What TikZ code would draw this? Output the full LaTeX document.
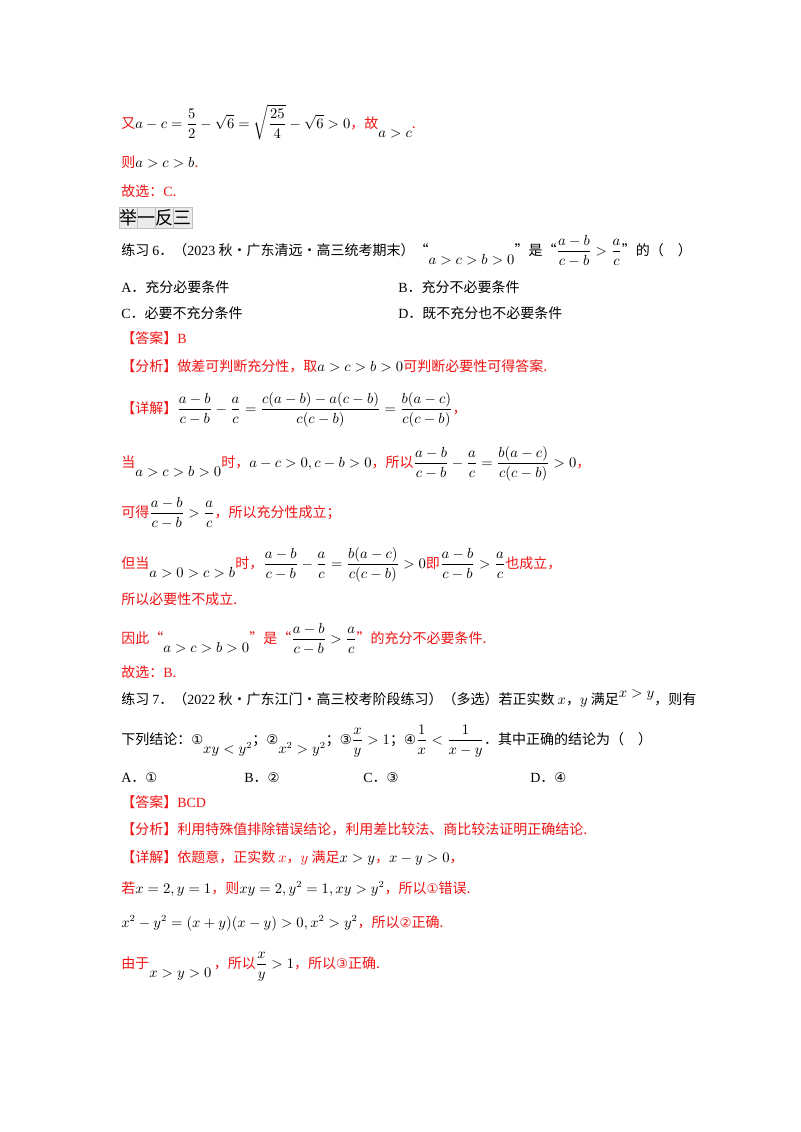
\documentclass[tikz,border=0pt]{standalone}
\usepackage{amsmath}
\usepackage{fontspec}
\usetikzlibrary{calc}
\setmainfont{Noto Sans CJK SC}
\newfontfamily\lat{Liberation Serif}
\newfontfamily\sym{DejaVu Sans}
\definecolor{rd}{RGB}{240,20,20}
\tikzset{ln/.style={anchor=base west,inner sep=0pt,font=\fontsize{10.5}{12}\selectfont},
 r/.style={ln,text=rd}}
\newcommand{\mm}[1]{\textcolor{black}{$#1$}}
\newcommand{\cc}[1]{{\sym\fontsize{10}{12}\selectfont #1}}
\begin{document}
\begin{tikzpicture}[x=0.75pt,y=-0.75pt]
\useasboundingbox[fill=white] (0,0) rectangle (800,1132);
\node[r] (l1) at (121,128) {又\mm{a-c=\dfrac52-\sqrt6=\sqrt{\dfrac{25}{4}}-\sqrt6>0}，故\raisebox{-1.2ex}{\mm{a>c}}.};
\node[r] (l2) at (121,167) {则\mm{a>c>b}.};
\node[r] (l3) at (121,196) {故选：{\lat C}.};
\node[anchor=north west,inner sep=0.5pt,fill=black!8,draw=black!25,minimum height=16pt,font=\fontsize{13.5}{15}\selectfont] (jy) at (119,207) {举一反三};
\foreach \k in {1,2,3}{\draw[black!25] ($(jy.north west)+(0.5pt+\k*13.5pt,0)$) -- ++(0,-16pt);}
\node[ln] (p6) at (121,255) {练习 {\lat 6}．（{\lat 2023} 秋·广东清远·高三统考期末）“\raisebox{-1.3ex}{$a>c>b>0$}”是“$\dfrac{a-b}{c-b}>\dfrac ac$”的（\quad ）};
\node[ln] (oa) at (121,292) {{\lat A}．充分必要条件};
\node[ln] (ob) at (398,292) {{\lat B}．充分不必要条件};
\node[ln] (oc) at (121,318) {{\lat C}．必要不充分条件};
\node[ln] (od) at (398,318) {{\lat D}．既不充分也不必要条件};
\node[r] (a6) at (121,343) {【答案】{\lat B}};
\node[r] (f6) at (121,371) {【分析】做差可判断充分性，取\mm{a>c>b>0}可判断必要性可得答案.};
\node[r] (x6) at (121,413) {【详解】\mm{\dfrac{a-b}{c-b}-\dfrac ac=\dfrac{c(a-b)-a(c-b)}{c(c-b)}=\dfrac{b(a-c)}{c(c-b)}}，};
\node[r] (d1) at (121,467) {当\raisebox{-1.3ex}{\mm{a>c>b>0}}时，\mm{a-c>0,c-b>0}，所以\mm{\dfrac{a-b}{c-b}-\dfrac ac=\dfrac{b(a-c)}{c(c-b)}>0}，};
\node[r] (d2) at (121,517) {可得\mm{\dfrac{a-b}{c-b}>\dfrac ac}，所以充分性成立；};
\node[r] (d3) at (121,568) {但当\raisebox{-1.3ex}{\mm{a>0>c>b}}时，\mm{\dfrac{a-b}{c-b}-\dfrac ac=\dfrac{b(a-c)}{c(c-b)}>0}即\mm{\dfrac{a-b}{c-b}>\dfrac ac}也成立，};
\node[r] (d4) at (121,604) {所以必要性不成立.};
\node[r] (d5) at (121,643) {因此“\raisebox{-1.3ex}{\mm{a>c>b>0}}”是“\mm{\dfrac{a-b}{c-b}>\dfrac ac}”的充分不必要条件.};
\node[r] (d6) at (121,677) {故选：{\lat B}.};
\node[ln] (p7) at (121,704) {练习 {\lat 7}．（{\lat 2022} 秋·广东江门·高三校考阶段练习）（多选）若正实数 $x$，$y$ 满足\raisebox{0.8ex}{$x>y$}，则有};
\node[ln] (p7b) at (121,744) {下列结论：\cc{①}\raisebox{-1.3ex}{$xy<y^2$}；\cc{②}\raisebox{-1.3ex}{$x^2>y^2$}；\cc{③}$\dfrac xy>1$；\cc{④}$\dfrac1x<\dfrac1{x-y}$．其中正确的结论为（\quad ）};
\node[ln] (qa) at (121,782) {{\lat A}．\cc{①}};
\node[ln] (qb) at (244,782) {{\lat B}．\cc{②}};
\node[ln] (qc) at (363,782) {{\lat C}．\cc{③}};
\node[ln] (qd) at (530,782) {{\lat D}．\cc{④}};
\node[r] (a7) at (121,807) {【答案】{\lat BCD}};
\node[r] (f7) at (121,834) {【分析】利用特殊值排除错误结论，利用差比较法、商比较法证明正确结论.};
\node[r] (x7) at (121,862) {【详解】依题意，正实数 $x$，$y$ 满足\mm{x>y}，\mm{x-y>0}，};
\node[r] (e1) at (121,893) {若\mm{x=2,y=1}，则\mm{xy=2,y^2=1,xy>y^2}，所以\cc{①}错误.};
\node[r] (e2) at (121,927) {\mm{x^2-y^2=(x+y)(x-y)>0,x^2>y^2}，所以\cc{②}正确.};
\node[r] (e3) at (121,968) {由于\raisebox{-1.3ex}{\mm{x>y>0}}\,，所以\mm{\dfrac xy>1}，所以\cc{③}正确.};
\end{tikzpicture}
\end{document}
